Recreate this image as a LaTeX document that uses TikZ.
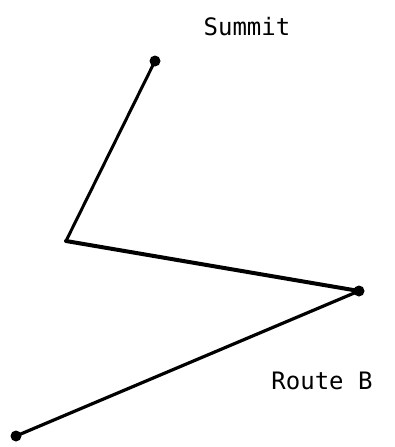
\documentclass[tikz,border=0pt]{standalone}
\usepackage{fontspec}
\newfontfamily\labelfont{DejaVu Sans Mono}
\begin{document}
\begin{tikzpicture}[x=1pt,y=1pt,
  dotnode/.style={circle,fill=black,inner sep=0pt,minimum size=11pt},
  lbl/.style={font=\labelfont\fontsize{24}{28}\selectfont,inner sep=0pt},
  leg/.style={line cap=round}]
\useasboundingbox (0,0) rectangle (395,-447);
\node[dotnode] (s) at (155,-61) {};
\coordinate (v) at (66,-241);
\node[dotnode] (r) at (359,-291) {};
\node[dotnode] (b) at (16,-436) {};
\node[lbl] (tsum) at (247,-27) {Summit};
\node[lbl] (troute) at (322,-381) {Route B};
\draw[leg,line width=3pt] (s.center) -- (v);
\draw[leg,line width=4pt] (v) -- (r.center);
\draw[leg,line width=3.2pt] (r.center) -- (b.center);
\end{tikzpicture}
\end{document}
